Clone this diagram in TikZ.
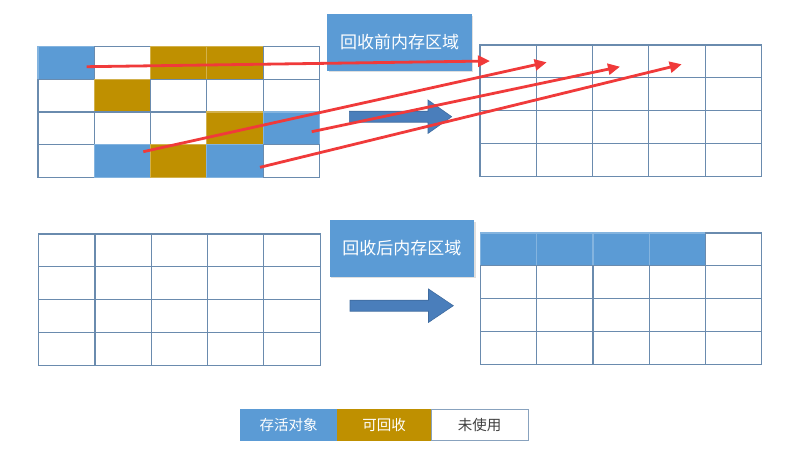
\documentclass[tikz,border=0pt]{standalone}
\usepackage{fontspec}
\newfontfamily\cjk{Noto Sans CJK SC}
\usetikzlibrary{arrows.meta,shadows}
\definecolor{liveblue}{HTML}{5B9BD5}
\definecolor{gold}{HTML}{BF9000}
\definecolor{gridline}{HTML}{6A8BAE}
\definecolor{arrowblue}{HTML}{4A7EBB}
\definecolor{redline}{HTML}{F03A3A}
\definecolor{legendtext}{HTML}{404040}
\begin{document}
\begin{tikzpicture}[x=1pt,y=-1pt,
  cellE/.style={draw=gridline, line width=1.2pt, fill=white, minimum width=56.3pt, minimum height=32.8pt, inner sep=0pt, anchor=north west},
  cellL/.style={cellE, fill=liveblue, draw=liveblue!75!white},
  cellD/.style={cellE, fill=gold, draw=gold!70!white},
  titlebox/.style={fill=liveblue, text=white, font=\cjk\fontsize{17}{20}\selectfont, minimum width=144.5pt, minimum height=56.7pt, inner sep=0pt, drop shadow={shadow xshift=1.5pt, shadow yshift=-1.5pt, opacity=0.25}},
  legendbox/.style={font=\cjk\fontsize{14.5}{17}\selectfont, minimum height=31.7pt, inner sep=0pt},
  blockarrow/.style={fill=arrowblue, draw=arrowblue!85!black, line width=0.6pt},
  movearrow/.style={draw=redline, line width=2.8pt, -{Triangle[length=12pt,width=11pt]}}
]
\useasboundingbox (0,0) rectangle (799,450);
% top-left grid (before collection)
\foreach \r/\row in {0/{L,E,D,D,E},1/{E,D,E,E,E},2/{E,E,E,D,L},3/{E,L,D,L,E}}
  \foreach \s [count=\c from 0] in \row
    \node[cell\s] (A-\r-\c) at ({37.3+\c*56.3},{46+\r*32.7}) {};
% top-right grid
\foreach \r in {0,...,3}
  \foreach \c in {0,...,4}
    \node[cellE] (B-\r-\c) at ({479.3+\c*56.3},{44.3+\r*32.85}) {};
% bottom-left grid
\foreach \r in {0,...,3}
  \foreach \c in {0,...,4}
    \node[cellE] (C-\r-\c) at ({38+\c*56.3},{233.3+\r*32.9}) {};
% bottom-right grid (after collection)
\foreach \r/\row in {0/{L,L,L,L,E},1/{E,E,E,E,E},2/{E,E,E,E,E},3/{E,E,E,E,E}}
  \foreach \s [count=\c from 0] in \row
    \node[cell\s] (D-\r-\c) at ({479.7+\c*56.3},{232.3+\r*32.85}) {};
% legend
\node[legendbox, fill=liveblue, text=white, minimum width=97.3pt] (live) at (288.65,424.85) {存活对象};
\node[legendbox, fill=gold, text=white, minimum width=93.7pt] (dead) at (384.15,424.85) {可回收};
\node[legendbox, fill=white, draw=gridline!80!white, line width=0.8pt, text=legendtext, minimum width=97.3pt] (free) at (479.65,424.85) {未使用};
% title boxes
\node[titlebox] (before) at (399.5,42.4) {回收前内存区域};
\node[titlebox] (after) at (401.8,248.4) {回收后内存区域};
% block arrows
\draw[blockarrow] (349.3,111.2) -- (428,111.2) -- (428,100) -- (451.7,116.7) -- (428,133.4) -- (428,122.2) -- (349.3,122.2) -- cycle;
\draw[blockarrow] (350,300.2) -- (428.5,300.2) -- (428.5,289) -- (453.3,305.7) -- (428.5,322.4) -- (428.5,311.2) -- (350,311.2) -- cycle;
% moving arrows
\coordinate (s1) at (86.7,66.7);  \coordinate (t1) at (490,61);
\coordinate (s2) at (143.3,151.7); \coordinate (t2) at (546.7,62.3);
\coordinate (s3) at (311.7,131.7); \coordinate (t3) at (620,66.7);
\coordinate (s4) at (260,167.3);  \coordinate (t4) at (681.7,64.3);
\draw[movearrow] (s1) -- (t1);
\draw[movearrow] (s2) -- (t2);
\draw[movearrow] (s3) -- (t3);
\draw[movearrow] (s4) -- (t4);
\end{tikzpicture}
\end{document}
